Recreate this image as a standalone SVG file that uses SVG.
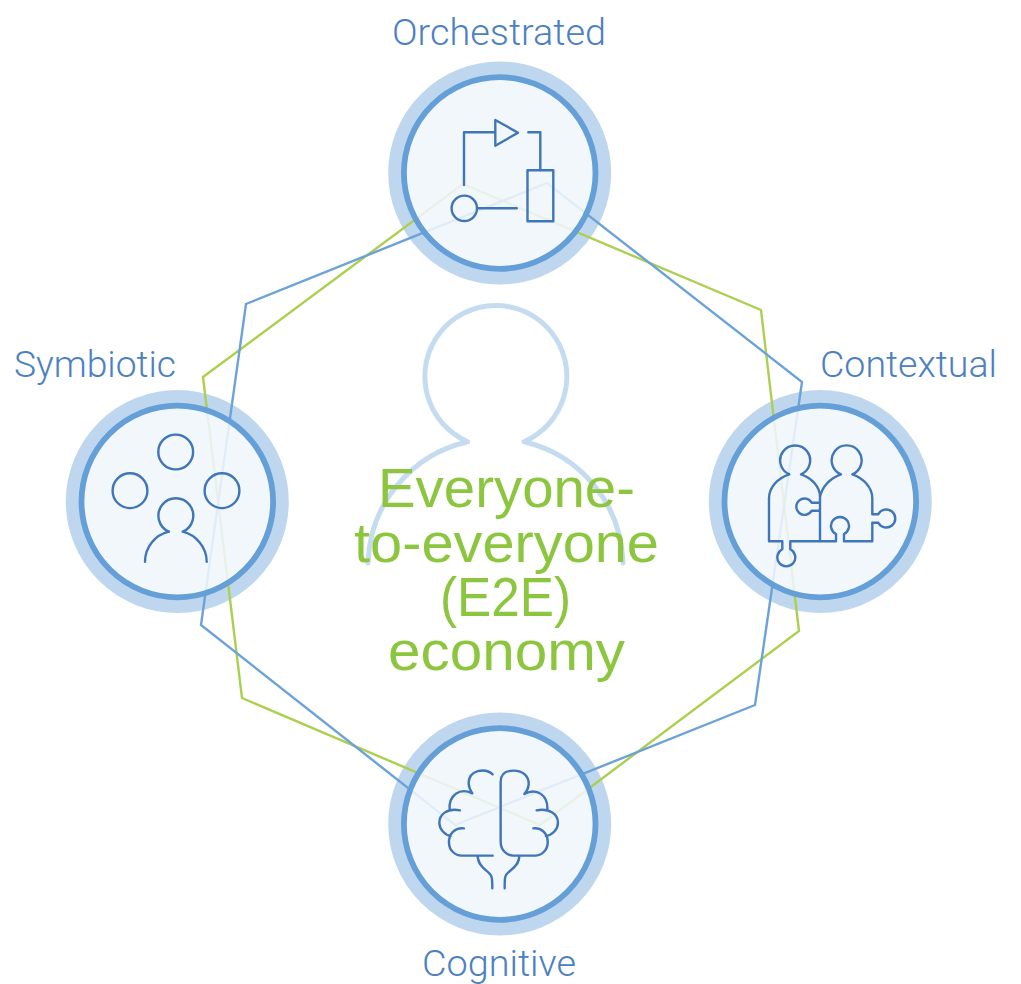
<svg xmlns="http://www.w3.org/2000/svg" width="1021" height="984" viewBox="0 0 1021 984">
<style>
text{font-family:"Liberation Sans",Arial,sans-serif}
.label{font-family:Roboto,"Liberation Sans",Arial,sans-serif;font-weight:300;font-size:36px;fill:#4c80c2}
.title{font-size:55.5px;fill:#8cc63f}
.halo{fill:none;stroke:#bfd7ee;stroke-width:16}
.disc{fill:#f0f6fc;fill-opacity:.88;stroke:#659fd8;stroke-width:5.8}
.icon{fill:none;stroke:#3f76b9;stroke-width:2.4;stroke-linecap:round;stroke-linejoin:round}
.link{fill:none;stroke-width:2.4;stroke-linejoin:miter}
</style>
<rect width="1021" height="984" fill="#fff"/>
<g id="halos">
<circle class="halo" cx="499.7" cy="173" r="103.5"/>
<circle class="halo" cx="820.3" cy="501.5" r="103.5"/>
<circle class="halo" cx="499.7" cy="824" r="103.5"/>
<circle class="halo" cx="177.3" cy="501.5" r="103.5"/>
</g>
<g id="connectors">
<polygon class="link" stroke="#adcf4f" points="203,377 463,184 761,310 799,631 540,825 242,698"/>
<polygon class="link" stroke="#6ba3d8" points="246,304 547,183 802,382 755,705 455,825 201,625"/>
</g>
<g id="center">
<path fill="none" stroke="#c5dbf0" stroke-width="5" stroke-linecap="round" stroke-linejoin="round" d="M368 563A128 128 0 0 1 467.7 441.7A71 71 0 1 1 524 441.7A128 128 0 0 1 623 563"/>
<g class="title">
<text x="378" y="507" textLength="257" lengthAdjust="spacingAndGlyphs">Everyone-</text>
<text x="354" y="562" textLength="305" lengthAdjust="spacingAndGlyphs">to-everyone</text>
<text x="440" y="616" textLength="131" lengthAdjust="spacingAndGlyphs">(E2E)</text>
<text x="388" y="670" textLength="237" lengthAdjust="spacingAndGlyphs">economy</text>
</g>
</g>
<g id="orchestrated">
<circle class="disc" cx="499.7" cy="173" r="95.8"/>
<g class="icon">
<path d="M464 185V132.3H495"/>
<path d="M495.3 120L518 132.7L495.3 145.7Z"/>
<path d="M528.3 132.3H540.3V170"/>
<rect x="527.5" y="170.3" width="25.8" height="51"/>
<circle cx="464.3" cy="208.3" r="12.7"/>
<path d="M477.7 208.3H516.7"/>
</g>
<text class="label" x="392" y="45" textLength="214" lengthAdjust="spacingAndGlyphs">Orchestrated</text>
</g>
<g id="contextual">
<circle class="disc" cx="820.3" cy="501.5" r="95.8"/>
<g class="icon">
<path d="M789.3 474.3A15 15 0 1 1 801 474.3C812 478 820 487 820 497V541.3M789.3 474.3C778 478 769 487 769 498.3V541.3H782.3V549.3A9 9 0 1 0 790.3 549.3V541.3H836V534A9 9 0 1 1 844 534V541.3H872.3V522.7H878.3A9 9 0 1 0 878.3 514.3H872.3V498.3C872.3 487 863 478 852.3 474.3A15 15 0 1 0 841 474.3C830 478 822 487 820 497M820 502.7H811.7A8.2 8.2 0 1 0 811.7 510.7H820"/>
</g>
<text class="label" x="820" y="377" textLength="177" lengthAdjust="spacingAndGlyphs">Contextual</text>
</g>
<g id="cognitive">
<circle class="disc" cx="499.7" cy="824" r="95.8"/>
<g class="icon" transform="translate(380 710) scale(.3333)" style="stroke-width:7.2">
<path d="M338 193C315 172 266 180 266 220C266 232 270 240 277 250C240 232 205 255 209 300M240 301C200 293 178 315 178 338C178 358 195 375 212 378M252 355C225 352 205 372 207 400C208 420 225 437 245 437H338M293 437C293 465 315 478 325 487C335 495 337 500 337 535"/>
<path d="M433 252C440 245 445 235 446 225C448 200 430 182 400 182C380 182 362 190 362 215V395C362 420 380 437 400 437H465C485 437 502 420 503 400C505 372 485 352 460 355M433 252C470 232 505 255 502 300M470 301C510 293 534 315 534 338C534 358 517 375 498 378M418 437C418 465 395 478 385 487C375 495 374 500 374 535"/>
</g>
<text class="label" x="422" y="976" textLength="154" lengthAdjust="spacingAndGlyphs">Cognitive</text>
</g>
<g id="symbiotic">
<circle class="disc" cx="177.3" cy="501.5" r="95.8"/>
<g class="icon">
<circle cx="175.7" cy="452" r="17.4"/>
<circle cx="130" cy="490.7" r="17.4"/>
<circle cx="222" cy="490.7" r="17.4"/>
<path d="M145 561.7C145 547 155 535 169 531.7A17.4 17.4 0 1 1 182.7 531.7C196 535 206.7 547 206.7 561.7"/>
</g>
<text class="label" x="14" y="377" textLength="162" lengthAdjust="spacingAndGlyphs">Symbiotic</text>
</g>
</svg>
